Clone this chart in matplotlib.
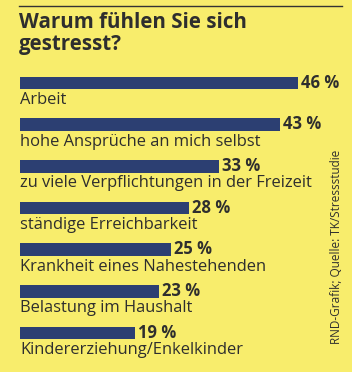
import matplotlib
matplotlib.use("Agg")
from matplotlib import pyplot as plt

# Daten
gruende = ['Arbeit', 'hohe Ansprüche an mich selbst', 'zu viele Verpflichtungen in der Freizeit',
           'ständige Erreichbarkeit', 'Krankheit eines Nahestehenden', 'Belastung im Haushalt',
           'Kindererziehung/Enkelkinder']
prozent = [46, 43, 33, 28, 25, 23, 19]

titel = 'Warum fühlen Sie sich\ngestresst?'
quelle = 'RND-Grafik; Quelle: TK/Stressstudie'

bg = '#f8ed6c'
bar_color = '#2c3f72'
text_color = '#2e2e2e'

plt.rcParams['font.family'] = ['Open Sans', 'DejaVu Sans']

W, H = 352, 372
fig = plt.figure(figsize=(W / 100, H / 100), dpi=100, facecolor=bg)

# Achse in Pixeln platzieren
top, bottom = 62.2, 353.8
left, right = 20, 20 + 50 * 6.04
ax = fig.add_axes([left / W, 1 - bottom / H, (right - left) / W, (bottom - top) / H])
ax.set_facecolor('none')
ax.set_xlim(0, 50)
ax.set_ylim(len(gruende) - 0.5, -0.5)
ax.axis('off')

ys = list(range(len(gruende)))
ax.barh(ys, prozent, height=0.3, color=bar_color, align='center')
for y, label, v in zip(ys, gruende, prozent):
    ax.text(0, y + 0.41, label, va='center', ha='left', fontsize=11.9, color=text_color)
    ax.text(v + 0.5, y - 0.01, f'{v} %', va='center', ha='left', fontsize=12,
            fontweight='bold', color=text_color)

# Kopf
fig.add_artist(plt.Line2D([19 / W, 342 / W], [1 - 5.5 / H, 1 - 5.5 / H], color='#333333', lw=1))
fig.text(19 / W, 1 - 12.5 / H, titel, va='top', ha='left', fontsize=14.8, fontweight='bold',
         color=text_color, linespacing=1.05)

fig.text(336 / W, 1 - 344 / H, quelle, rotation=90, va='bottom', ha='center', fontsize=8.5,
         color=text_color)

fig.savefig('out.png', dpi=100, facecolor=bg)
